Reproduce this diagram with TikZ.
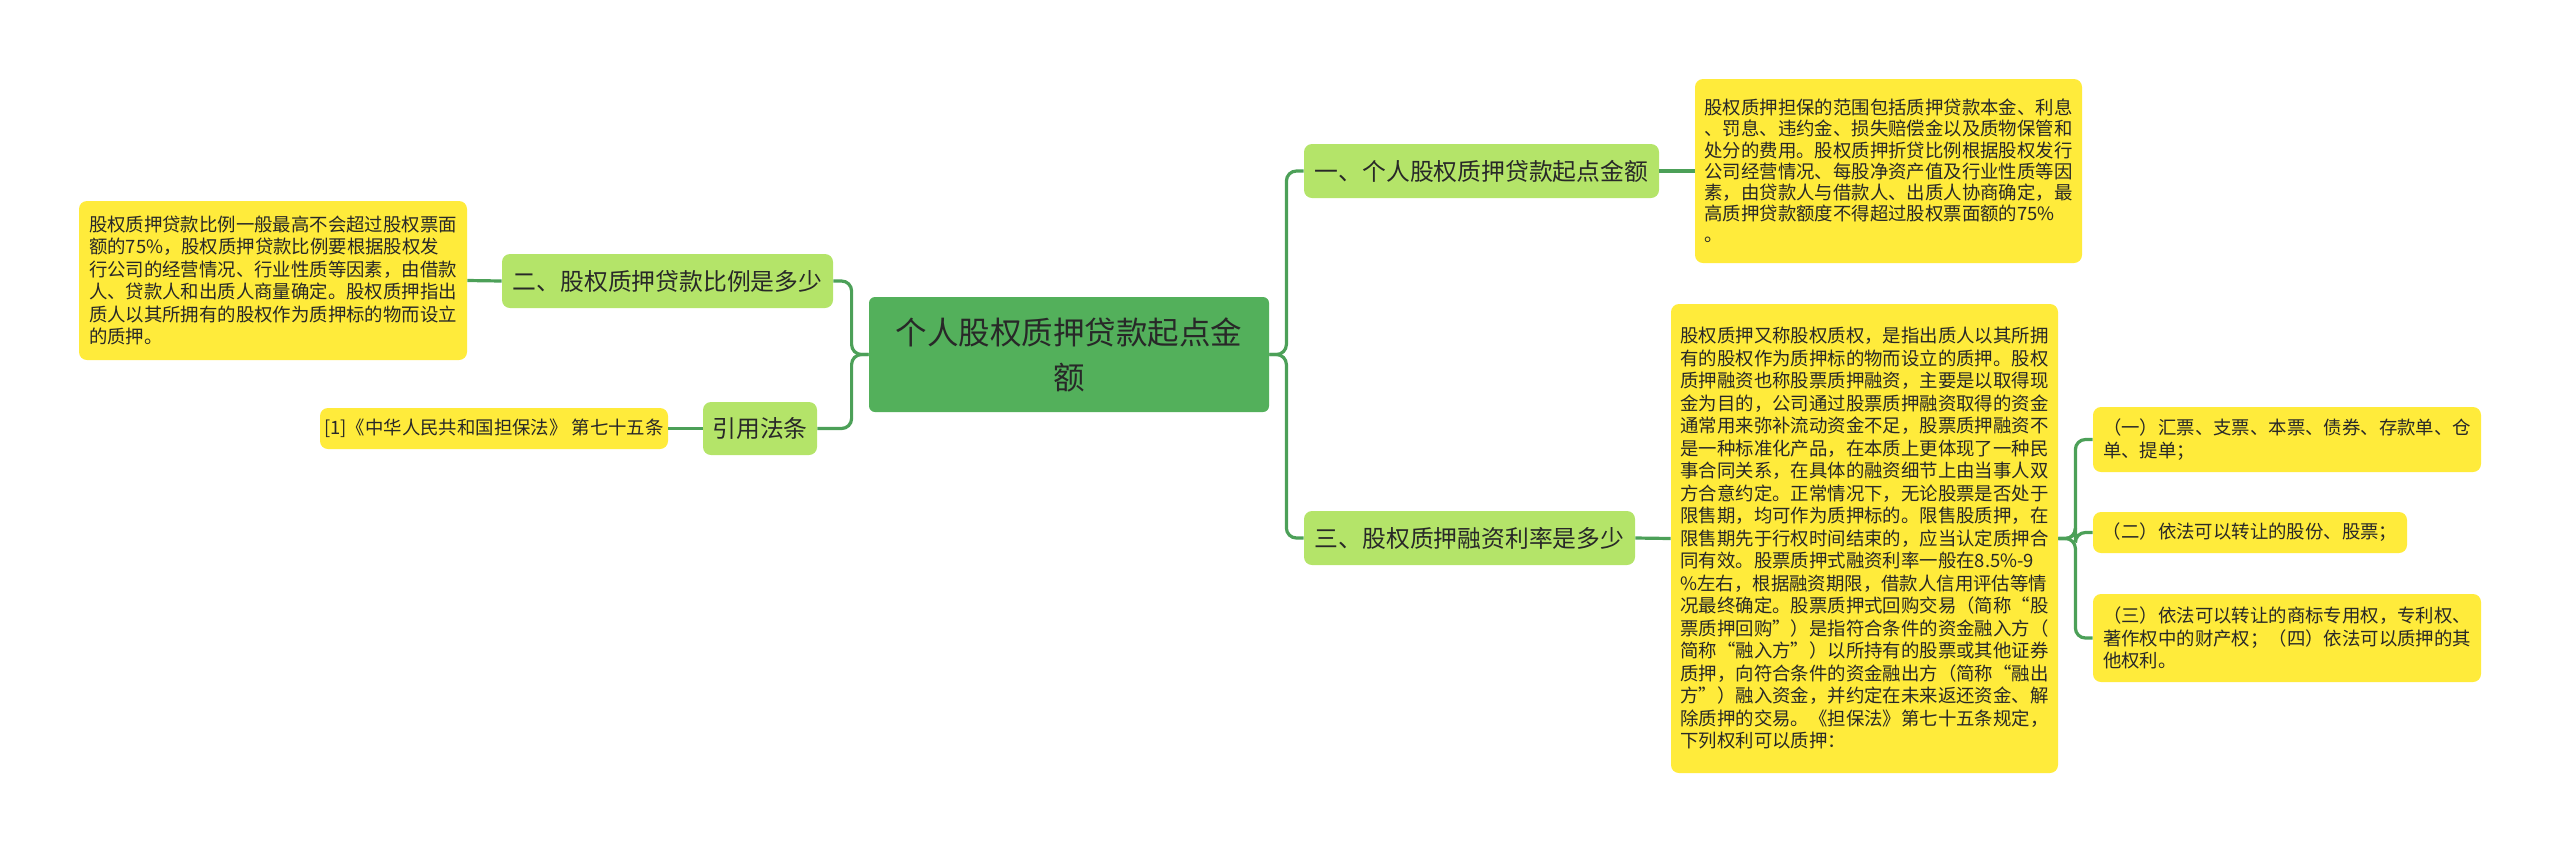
\documentclass[tikz,border=0pt]{standalone}
\usepackage{fontspec}
\usepackage{tikz}
\newfontfamily\cjkfont{Noto Sans CJK SC}

\definecolor{rootgreen}{RGB}{83,176,91}
\definecolor{topicgreen}{RGB}{180,228,105}
\definecolor{leafyellow}{RGB}{255,235,59}
\definecolor{linkgreen}{RGB}{76,160,88}
\definecolor{textgray}{RGB}{40,40,40}

\tikzset{
  root/.style={fill=rootgreen, rounded corners=3pt, inner sep=0pt, align=center,
    text=textgray, font=\cjkfont\fontsize{15.75}{22.5}\selectfont},
  topic/.style={fill=topicgreen, rounded corners=4pt, inner sep=0pt, align=center,
    text=textgray, minimum height=27pt, font=\cjkfont\fontsize{11.9}{14}\selectfont},
  leaf/.style={fill=leafyellow, rounded corners=4pt, inner sep=0pt, align=left,
    text=textgray, font=\cjkfont\fontsize{9.2}{11.25}\selectfont},
  link/.style={draw=linkgreen, line width=1.6pt, rounded corners=5pt}
}

\begin{document}
\begin{tikzpicture}[x=0.5pt,y=-0.5pt]
    \useasboundingbox (0,0) rectangle (2560,853);

    \node[root, minimum width=200pt, minimum height=57.5pt] at (1069,354.5) (R0) {个人股权质押贷款起点金\\额};

    \node[topic, minimum width=177.5pt] at (1481.5,171) (B1) {一、个人股权质押贷款起点金额};
    \node[topic, minimum width=165.5pt] at (1469.5,538) (B3) {三、股权质押融资利率是多少};
    \node[topic, minimum width=165.5pt] at (667.5,281) (B2) {二、股权质押贷款比例是多少};
    \node[topic, minimum width=57pt, minimum height=26.5pt] at (760,428.5) (B4) {引用法条};

    \node[leaf, minimum width=193.5pt, minimum height=92pt, font=\cjkfont\fontsize{9.2}{10.6}\selectfont] at (1888.5,171) (L1) {股权质押担保的范围包括质押贷款本金、利息\\
、罚息、违约金、损失赔偿金以及质物保管和\\
处分的费用。股权质押折贷比例根据股权发行\\
公司经营情况、每股净资产值及行业性质等因\\
素，由贷款人与借款人、出质人协商确定，最\\
高质押贷款额度不得超过股权票面额的75\%\\
。};

    \node[leaf, minimum width=193.5pt, minimum height=234.5pt] at (1864.5,538.5) (L3) {股权质押又称股权质权，是指出质人以其所拥\\
有的股权作为质押标的物而设立的质押。股权\\
质押融资也称股票质押融资，主要是以取得现\\
金为目的，公司通过股票质押融资取得的资金\\
通常用来弥补流动资金不足，股票质押融资不\\
是一种标准化产品，在本质上更体现了一种民\\
事合同关系，在具体的融资细节上由当事人双\\
方合意约定。正常情况下，无论股票是否处于\\
限售期，均可作为质押标的。限售股质押，在\\
限售期先于行权时间结束的，应当认定质押合\\
同有效。股票质押式融资利率一般在8.5\%-9\\
\%左右，根据融资期限，借款人信用评估等情\\
况最终确定。股票质押式回购交易（简称“股\\
票质押回购”）是指符合条件的资金融入方（\\
简称“融入方”）以所持有的股票或其他证券\\
质押，向符合条件的资金融出方（简称“融出\\
方”）融入资金，并约定在未来返还资金、解\\
除质押的交易。《担保法》第七十五条规定，\\
下列权利可以质押：};

    \node[leaf, minimum width=194pt, minimum height=32.5pt] at (2287,439.5) (S1) {（一）汇票、支票、本票、债券、存款单、仓\\
单、提单；};
    \node[leaf, minimum width=157pt, minimum height=20.5pt] at (2250,532.5) (S2) {（二）依法可以转让的股份、股票；};
    \node[leaf, minimum width=194pt, minimum height=44pt] at (2287,638) (S3) {（三）依法可以转让的商标专用权，专利权、\\
著作权中的财产权；（四）依法可以质押的其\\
他权利。};

    \node[leaf, minimum width=194pt, minimum height=79.5pt] at (273,280.5) (LL) {股权质押贷款比例一般最高不会超过股权票面\\
额的75\%，股权质押贷款比例要根据股权发\\
行公司的经营情况、行业性质等因素，由借款\\
人、贷款人和出质人商量确定。股权质押指出\\
质人以其所拥有的股权作为质押标的物而设立\\
的质押。};
    \node[leaf, minimum width=174pt, minimum height=20.5pt] at (494,428.5) (LC) {[1]《中华人民共和国担保法》 第七十五条};

    % root to topics
    \draw[link] (R0.east) -- ++(17,0) |- (B1.west);
    \draw[link] (R0.east) -- ++(17,0) |- (B3.west);
    \draw[link] (R0.west) -- ++(-17,0) |- (B2.east);
    \draw[link] (R0.west) -- ++(-17,0) |- (B4.east);

    % topics to leaves
    \draw[link] (B1.east) -- (L1.west);
    \draw[link] (B3.east) -- (L3.west);
    \draw[link] (B2.west) -- (LL.east);
    \draw[link] (B4.west) -- (LC.east);
    \draw[link] (L3.east) -- ++(17,0) |- (S1.west);
    \draw[link] (L3.east) -- ++(17,0) |- (S2.west);
    \draw[link] (L3.east) -- ++(17,0) |- (S3.west);
\end{tikzpicture}
\end{document}
